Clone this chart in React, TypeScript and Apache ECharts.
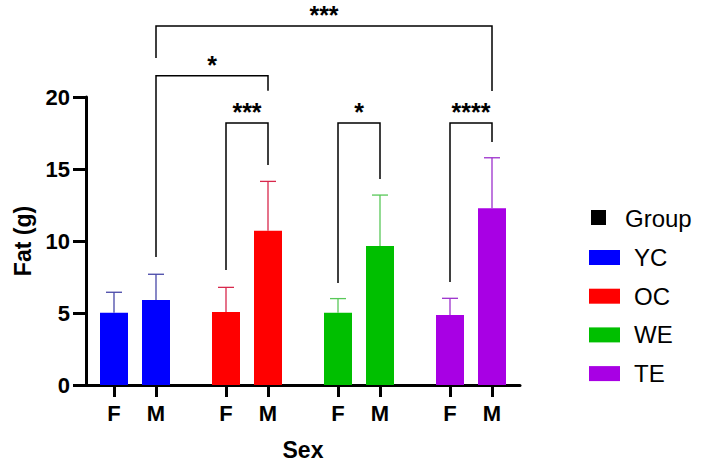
import React, { useEffect, useRef } from "react";
import * as echarts from "echarts";

const groups = ["YC", "OC", "WE", "TE"];
const sexes = ["F", "M"];
const barColors = ["#0000ff", "#ff0000", "#00bf00", "#a800e4"];
const errColors = ["#4848a8", "#d8284c", "#58c858", "#9c30cc"];
const fMeans = [5.02, 5.07, 5.02, 4.86];
const mMeans = [5.9, 10.72, 9.65, 12.27];
const fErrTop = [6.44, 6.78, 6.0, 6.02];
const mErrTop = [7.69, 14.14, 13.19, 15.78];

// brackets: [group, sex] endpoints, level, leg end values, label
const bracketFrom = [[0, 1], [0, 1], [1, 0], [2, 0], [3, 0]];
const bracketTo = [[3, 1], [1, 1], [1, 1], [2, 1], [3, 1]];
const bracketLevel = [24.93, 21.48, 18.19, 18.19, 18.19];
const bracketLeftEnd = [22.71, 8.89, 7.99, 7.08, 7.15];
const bracketRightEnd = [20.42, 20.44, 15.28, 14.31, 16.88];
const bracketLabels = ["***", "*", "***", "*", "****"];

const yTicks = [0, 5, 10, 15, 20];

const FONT = "Liberation Sans, Arial, sans-serif";

// layout: bar slots in units of bar width
const xPos = (g: number, s: number) => 1 + 4 * g + 1.5 * s;

export default function App() {
  const ref = useRef<HTMLDivElement>(null);
  useEffect(() => {
    if (!ref.current) return;
    const chart = echarts.init(ref.current, null, { renderer: "svg" });
    const tickPositions: number[] = [];
    const tickLabels: string[] = [];
    groups.forEach((_, g) =>
      sexes.forEach((s, si) => {
        tickPositions.push(xPos(g, si));
        tickLabels.push(s);
      })
    );

    const barSeries = groups.map((name, g) => ({
      type: "bar",
      name,
      barWidth: 28,
      barGap: "-100%",
      itemStyle: { color: barColors[g] },
      data: [
        [xPos(g, 0), fMeans[g]],
        [xPos(g, 1), mMeans[g]],
      ],
      z: 2,
    }));

    const errData: any[] = [];
    groups.forEach((_, g) => {
      errData.push([xPos(g, 0), fMeans[g], fErrTop[g], g]);
      errData.push([xPos(g, 1), mMeans[g], mErrTop[g], g]);
    });

    const errSeries = {
      type: "custom",
      name: "err",
      z: 3,
      encode: { x: 0, y: [1, 2] },
      data: errData,
      renderItem: (params: any, api: any) => {
        const x = api.value(0);
        const p0 = api.coord([x, api.value(1)]);
        const p1 = api.coord([x, api.value(2)]);
        const col = errColors[api.value(3)];
        const style = { stroke: col, lineWidth: 1.3, fill: "none" };
        return {
          type: "group",
          children: [
            { type: "line", shape: { x1: p0[0], y1: p0[1], x2: p1[0], y2: p1[1] }, style },
            { type: "line", shape: { x1: p1[0] - 8, y1: p1[1], x2: p1[0] + 8, y2: p1[1] }, style },
          ],
        };
      },
    };

    const bracketData = bracketFrom.map((f, i) => [
      xPos(f[0], f[1]),
      xPos(bracketTo[i][0], bracketTo[i][1]),
      bracketLevel[i],
      bracketLeftEnd[i],
      bracketRightEnd[i],
    ]);

    const bracketSeries = {
      type: "custom",
      name: "brackets",
      clip: false,
      z: 4,
      encode: { x: [0, 1], y: [2, 3, 4] },
      data: bracketData,
      renderItem: (params: any, api: any) => {
        const x1 = api.value(0);
        const x2 = api.value(1);
        const lv = api.value(2);
        const a = api.coord([x1, api.value(3)]);
        const b = api.coord([x1, lv]);
        const c = api.coord([x2, lv]);
        const d = api.coord([x2, api.value(4)]);
        return {
          type: "group",
          children: [
            {
              type: "polyline",
              shape: { points: [a, b, c, d] },
              style: { stroke: "#000", lineWidth: 1.5, fill: "none" },
            },
            {
              type: "text",
              style: {
                text: bracketLabels[params.dataIndex],
                x: (b[0] + c[0]) / 2,
                y: b[1] - 11,
                align: "center",
                verticalAlign: "middle",
                fontSize: 25,
                fontWeight: "bold",
                fontFamily: FONT,
                fill: "#000",
              },
            },
          ],
        };
      },
    };

    chart.setOption({
      animation: false,
      grid: { left: 86, right: 183, top: 97, bottom: 86 },
      xAxis: {
        type: "value",
        min: 0,
        max: 15.5,
        name: "Sex",
        nameLocation: "middle",
        nameGap: 53,
        nameTextStyle: { fontSize: 23, fontWeight: "bold", fontFamily: FONT, color: "#000" },
        axisLine: { show: true, lineStyle: { color: "#000", width: 3 } },
        axisTick: { show: true, length: 12, lineStyle: { color: "#000", width: 3 }, customValues: tickPositions },
        axisLabel: {
          customValues: tickPositions,
          margin: 17,
          fontSize: 22,
          fontWeight: "bold",
          fontFamily: FONT,
          color: "#000",
          formatter: (v: number) => {
            const i = tickPositions.findIndex((p) => Math.abs(p - v) < 1e-6);
            return i >= 0 ? tickLabels[i] : "";
          },
        },
        splitLine: { show: false },
      },
      yAxis: {
        type: "value",
        min: 0,
        max: 20,
        interval: 5,
        name: "Fat (g)",
        nameLocation: "middle",
        nameGap: 48,
        nameTextStyle: { fontSize: 23, fontWeight: "bold", fontFamily: FONT, color: "#000" },
        axisLine: { show: true, lineStyle: { color: "#000", width: 3 } },
        axisTick: { show: true, length: 13, lineStyle: { color: "#000", width: 3 } },
        axisLabel: {
          margin: 16,
          fontSize: 22,
          fontWeight: "bold",
          fontFamily: FONT,
          color: "#000",
          formatter: (v: number) => (yTicks.includes(v) ? String(v) : ""),
        },
        splitLine: { show: false },
      },
      legend: {
        data: groups,
        orient: "vertical",
        left: 584,
        top: 240.5,
        icon: "rect",
        itemWidth: 31,
        itemHeight: 15,
        itemGap: 14.7,
        textStyle: { fontSize: 24, fontFamily: FONT, color: "#000", lineHeight: 24, padding: [0, 0, 0, 9] },
      },
      graphic: [
        { type: "rect", left: 591, top: 210, shape: { width: 15, height: 15 }, style: { fill: "#000" } },
        {
          type: "text",
          left: 625,
          top: 206,
          style: { text: "Group", fontSize: 24, fontFamily: FONT, fill: "#000" },
        },
      ],
      series: [...barSeries, errSeries, bracketSeries],
    });
    return () => chart.dispose();
  }, []);
  return <div ref={ref} style={{ width: 703, height: 471, position: "absolute", left: 0, top: 0 }} />;
}
